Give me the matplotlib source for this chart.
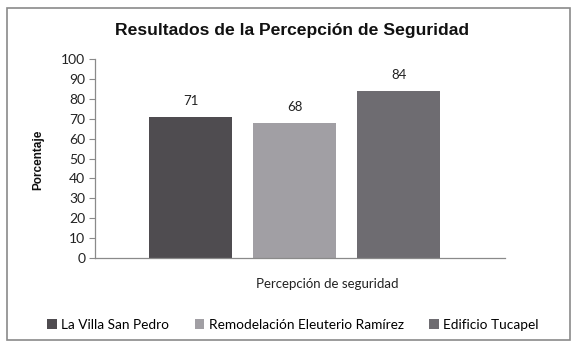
import matplotlib
matplotlib.use("Agg")
import matplotlib.pyplot as plt
from matplotlib.patches import Rectangle

series = ["La Villa San Pedro", "Remodelación Eleuterio Ramírez", "Edificio Tucapel"]
values = [71, 68, 84]
colors = ["#4f4c50", "#a19fa4", "#6e6c71"]
yticks = [0, 10, 20, 30, 40, 50, 60, 70, 80, 90, 100]

W, H = 579, 354
fig = plt.figure(figsize=(W / 100, H / 100), dpi=100)
fig.patch.set_facecolor("white")

# outer chart border
fig.patches.append(Rectangle((7 / W, 1 - 340 / H), 563 / W, 332 / H,
                             transform=fig.transFigure, fill=False,
                             edgecolor="#8a8a8a", linewidth=1.2))

ax = fig.add_axes([95 / W, 1 - 258 / H, 410 / W, 199 / H])
font = "Lato"
positions = [-1, 0, 1]
bars = []
for p, v, c, s in zip(positions, values, colors, series):
    b = ax.bar(p, v, width=0.8, color=c, label=s)
    bars.append(b)
    ax.text(p, v + 5, str(v), ha="center", va="bottom", fontsize=9.5,
            family=font, color="#222222")

ax.set_xlim(-1.92, 2.02)
ax.set_ylim(0, 100)
ax.set_yticks(yticks)
ax.set_yticklabels([str(t) for t in yticks], family=font, fontsize=10, color="#222222")
ax.set_xticks([])
for sp in ["top", "right"]:
    ax.spines[sp].set_visible(False)
for sp in ["left", "bottom"]:
    ax.spines[sp].set_color("#8a8a8a")
    ax.spines[sp].set_linewidth(0.9)
ax.tick_params(axis="y", direction="out", length=4, color="#8a8a8a", pad=3)

fig.text(292 / W, 1 - 30 / H, "Resultados de la Percepción de Seguridad",
         ha="center", va="center", fontsize=12.6, fontweight="bold",
         family="Liberation Sans", color="#111111")
fig.text(38 / W, 1 - 160 / H, "Porcentaje", rotation=90, ha="center", va="center",
         fontsize=8.5, fontweight="bold", family="Liberation Sans", color="#111111")
fig.text(327 / W, 1 - 284 / H, "Percepción de seguridad", ha="center", va="center",
         fontsize=9.5, family=font, color="#222222")

fig.legend(handles=[b for b in bars], labels=series, loc="center",
           bbox_to_anchor=(293 / W, 1 - 325 / H), ncol=3, frameon=False,
           prop={"family": font, "size": 9.8}, handlelength=0.7, handleheight=0.7,
           handletextpad=0.3, columnspacing=1.9)

fig.savefig("out.png", dpi=100, facecolor="white")
